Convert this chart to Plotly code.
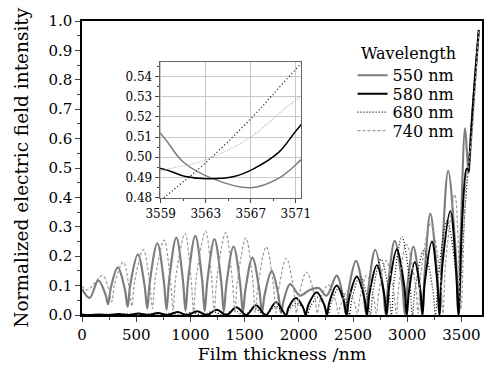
import plotly.graph_objects as go

# ---------------- data ----------------
x550 = [0, 70, 150, 215, 240, 265, 330, 396, 421, 446, 515, 577, 602, 627, 695, 755, 780, 805, 870,
        930, 955, 980, 1045, 1107, 1132, 1157, 1222, 1283, 1308, 1333, 1398, 1459, 1484, 1509, 1572,
        1635, 1660, 1685, 1750, 1811, 1836, 1861, 1920, 2010, 2100, 2183, 2255, 2350, 2408, 2433, 2458,
        2527, 2595, 2620, 2645, 2705, 2776, 2801, 2826, 2885, 2953, 2978, 3003, 3057, 3113, 3138, 3163,
        3213, 3273, 3298, 3323, 3378, 3447, 3472, 3492, 3533, 3550, 3559, 3561, 3563.5, 3567, 3569.5,
        3571.5, 3600, 3630, 3660]
y550 = [0.088, 0.058, 0.118, 0.072, 0.037, 0.091, 0.162, 0.086, 0.028, 0.105, 0.206, 0.101, 0.022, 0.117,
        0.244, 0.115, 0.018, 0.123, 0.263, 0.122, 0.015, 0.124, 0.269, 0.123, 0.013, 0.118, 0.258, 0.118,
        0.012, 0.107, 0.233, 0.106, 0.010, 0.090, 0.195, 0.088, 0.008, 0.069, 0.150, 0.069, 0.008, 0.050,
        0.105, 0.066, 0.085, 0.092, 0.066, 0.134, 0.060, 0.005, 0.082, 0.184, 0.081, 0.004, 0.098, 0.222,
        0.097, 0.003, 0.110, 0.252, 0.110, 0.003, 0.102, 0.233, 0.102, 0.003, 0.150, 0.345, 0.150, 0.003,
        0.213, 0.490, 0.213, 0.003, 0.250, 0.635, 0.56, 0.5116, 0.4976, 0.4896, 0.4848, 0.4896, 0.4989,
        0.66, 0.82, 0.965]

x580 = [0, 67, 157, 248, 338, 429, 520, 610, 700, 791, 881, 972, 1062, 1153, 1243, 1334, 1424, 1515, 1605,
        1695, 1790, 1882, 1905, 1973, 2040, 2063, 2088, 2165, 2235, 2259, 2283, 2350, 2416, 2440, 2465,
        2535, 2604, 2629, 2653, 2720, 2786, 2810, 2835, 2905, 2972, 2996, 3016, 3070, 3122, 3141, 3162,
        3228, 3278, 3298, 3322, 3398, 3450, 3473, 3500, 3525, 3548, 3559, 3561.2, 3563.2, 3565.5, 3567.2,
        3569.5, 3571.5, 3600, 3630, 3660]
y580 = [0.002, 0, 0.002, 0, 0.003, 0, 0.005, 0, 0.007, 0, 0.010, 0, 0.013, 0, 0.018, 0, 0.026, 0, 0.033,
        0, 0.043, 0, 0.025, 0.058, 0.025, 0, 0.034, 0.077, 0.034, 0, 0.045, 0.100, 0.045, 0, 0.058,
        0.131, 0.058, 0, 0.075, 0.169, 0.075, 0, 0.100, 0.224, 0.100, 0, 0.080, 0.180, 0.080, 0, 0.110,
        0.250, 0.110, 0, 0.160, 0.354, 0.160, 0, 0.26, 0.43, 0.497, 0.4944, 0.4904, 0.4893, 0.4904, 0.4941,
        0.5025, 0.5164, 0.68, 0.83, 0.97]

x680 = [0, 138, 235, 332, 429, 526, 623, 720, 817, 914, 1011, 1108, 1205, 1302, 1399, 1496, 1593, 1690,
        1787, 1884, 1909, 1981, 2053, 2078, 2103, 2175, 2247, 2272, 2297, 2369, 2441, 2466, 2491, 2563,
        2635, 2660, 2685, 2757, 2829, 2854, 2879, 2951, 3023, 3048, 3075, 3154, 3233, 3260, 3288, 3369,
        3450, 3478, 3500, 3530, 3559.5, 3562.9, 3566.9, 3571.3, 3600, 3630, 3660]
y680 = [0.001, 0, 0.002, 0, 0.003, 0, 0.004, 0, 0.006, 0, 0.009, 0, 0.012, 0, 0.016, 0, 0.022, 0,
        0.030, 0, 0.017, 0.040, 0.017, 0, 0.026, 0.060, 0.026, 0, 0.039, 0.090, 0.039, 0, 0.056, 0.130,
        0.056, 0, 0.082, 0.190, 0.082, 0, 0.114, 0.266, 0.114, 0, 0.095, 0.220, 0.095, 0, 0.138, 0.320,
        0.138, 0, 0.15, 0.34, 0.4808, 0.4968, 0.5185, 0.5454, 0.71, 0.855, 0.97]

x740 = [0, 50, 190, 250, 275, 300, 380, 435, 460, 485, 565, 625, 650, 675, 757, 815, 840, 865, 950, 1005,
        1030, 1055, 1140, 1195, 1220, 1245, 1325, 1385, 1410, 1435, 1512, 1575, 1600, 1625, 1700, 1765,
        1790, 1815, 1885, 1953, 1978, 2003, 2070, 2145, 2170, 2195, 2273, 2340, 2365, 2390, 2455, 2515,
        2540, 2565, 2625, 2690, 2715, 2740, 2805, 2875, 2900, 2925, 2992, 3075, 3100, 3125, 3215, 3305,
        3330, 3355, 3440, 3495, 3525, 3545, 3559, 3562.9, 3566.9, 3571.4, 3600, 3630, 3660]
y740 = [0.098, 0.085, 0.134, 0.083, 0.045, 0.103, 0.180, 0.094, 0.030, 0.112, 0.222, 0.108, 0.022, 0.122,
        0.255, 0.119, 0.016, 0.128, 0.277, 0.127, 0.013, 0.130, 0.285, 0.129, 0.011, 0.127, 0.280, 0.126,
        0.010, 0.118, 0.262, 0.118, 0.009, 0.105, 0.232, 0.104, 0.008, 0.088, 0.193, 0.087, 0.007, 0.067,
        0.146, 0.066, 0.006, 0.048, 0.103, 0.047, 0.005, 0.039, 0.085, 0.039, 0.005, 0.061, 0.135, 0.061,
        0.005, 0.082, 0.185, 0.082, 0.005, 0.106, 0.240, 0.106, 0.005, 0.136, 0.310, 0.136, 0.005, 0.179,
        0.410, 0.02, 0.30, 0.47, 0.4932, 0.4985, 0.5097, 0.5300, 0.63, 0.80, 0.965]

names = ["550 nm", "580 nm", "680 nm", "740 nm"]
xs = [x550, x580, x680, x740]
ys = [y550, y580, y680, y740]
legend_ids = ["legend", "legend2", "legend3", "legend4"]
legend_centers_px = [70, 89, 108, 127]

styles_main = [dict(color="#7d7d7d", width=2.2, dash="solid"),
               dict(color="#000000", width=2.0, dash="solid"),
               dict(color="#000000", width=1.2, dash="1px,2px"),
               dict(color="#9a9a9a", width=1.2, dash="3px,2px")]
styles_inset = [dict(color="#7d7d7d", width=1.5, dash="solid"),
                dict(color="#000000", width=1.5, dash="solid"),
                dict(color="#000000", width=1.2, dash="1px,2.5px"),
                dict(color="#b0b0b0", width=1.2, dash="1px,1.5px")]

FONT = "DejaVu Serif"
W, H = 504, 371
ML, MR, MT, MB = 82, 14, 14, 54
plot_h = H - MT - MB
plot_w = W - ML - MR

fig = go.Figure()
for n, x, y, s, lg in zip(names, xs, ys, styles_main, legend_ids):
    fig.add_trace(go.Scatter(x=x, y=y, mode="lines", name=n, legend=lg,
                             line=dict(shape="spline", smoothing=1.0, **s), xaxis="x", yaxis="y"))
for n, x, y, s in zip(names, xs, ys, styles_inset):
    fig.add_trace(go.Scatter(x=x, y=y, mode="lines", name=n, showlegend=False,
                             line=dict(shape="spline", smoothing=1.0, **s), xaxis="x2", yaxis="y2"))

legend_x = (358 - ML) / plot_w
legends = {}
for lg, cy in zip(legend_ids, legend_centers_px):
    legends[lg] = dict(x=legend_x, y=(H - MB - cy) / plot_h, xanchor="left", yanchor="middle",
                       bgcolor="rgba(0,0,0,0)", font=dict(family=FONT, size=16), itemwidth=30)

fig.update_layout(
    width=W, height=H,
    margin=dict(l=ML, r=MR, t=MT, b=MB),
    paper_bgcolor="white", plot_bgcolor="white",
    font=dict(family=FONT, size=15, color="black"),
    xaxis=dict(domain=[0, 1], range=[0, 3690], tickmode="linear", tick0=0, dtick=500,
               ticks="outside", ticklen=5, tickwidth=1, showline=True, linecolor="black", linewidth=1.5,
               mirror=True, showgrid=False, zeroline=False,
               minor=dict(ticks="outside", ticklen=3, dtick=250, tick0=0),
               title=dict(text="Film thickness /nm", font=dict(size=17.5), standoff=3),
               tickfont=dict(size=15)),
    yaxis=dict(domain=[0, 1], range=[0, 1.0], tickmode="linear", tick0=0, dtick=0.1, tickformat=".1f",
               ticks="outside", ticklen=5, tickwidth=1, showline=True, linecolor="black", linewidth=1.5,
               mirror=True, showgrid=False, zeroline=False,
               minor=dict(ticks="outside", ticklen=3, dtick=0.05, tick0=0),
               tickfont=dict(size=15)),
    xaxis2=dict(domain=[0.194, 0.5486], anchor="y2", range=[3558.9, 3571.5], tickmode="linear",
                tick0=3559, dtick=4, ticks="outside", ticklen=4, tickwidth=1, showline=True,
                linecolor="#666666", linewidth=1, mirror=True, showgrid=True, gridcolor="#c8c8c8",
                gridwidth=1, zeroline=False, tickfont=dict(size=12),
                minor=dict(ticks="outside", ticklen=2, dtick=2, tick0=3559, showgrid=False)),
    yaxis2=dict(domain=[0.3976, 0.859], anchor="x2", range=[0.4797, 0.547], tickmode="linear",
                tick0=0.48, dtick=0.01, tickformat=".2f", ticks="outside", ticklen=4, tickwidth=1,
                showline=True, linecolor="#666666", linewidth=1, mirror=True, showgrid=True,
                gridcolor="#c8c8c8", gridwidth=1, zeroline=False, tickfont=dict(size=12),
                minor=dict(ticks="outside", ticklen=2, dtick=0.005, tick0=0.48, showgrid=False)),
    showlegend=True,
    annotations=[
        dict(text="Wavelength", xref="paper", yref="paper",
             x=(414.7 - ML) / plot_w, y=(H - MB - 47) / plot_h, xanchor="center",
             yanchor="middle", showarrow=False, font=dict(family=FONT, size=16)),
        dict(text="Normalized electric field intensity", xref="paper", yref="paper",
             x=(20 - ML) / plot_w, y=(H - MB - 165) / plot_h, xanchor="center", yanchor="middle",
             textangle=-90, showarrow=False, font=dict(family=FONT, size=18.5)),
    ],
    **legends,
)

fig.write_html("out.html")
